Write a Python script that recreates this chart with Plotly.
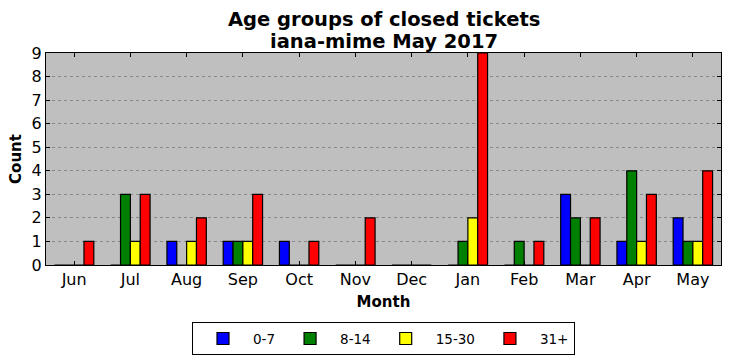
import plotly.graph_objects as go

months = ["Jun", "Jul", "Aug", "Sep", "Oct", "Nov", "Dec", "Jan", "Feb", "Mar", "Apr", "May"]
age_0_7 = [0, 0, 1, 1, 1, 0, 0, 0, 0, 3, 1, 2]
age_8_14 = [0, 3, 0, 1, 0, 0, 0, 1, 1, 2, 4, 1]
age_15_30 = [0, 1, 1, 1, 0, 0, 0, 2, 0, 0, 1, 1]
age_31p = [1, 3, 2, 3, 1, 2, 0, 9, 1, 2, 3, 4]
series = [("0-7", age_0_7, "#0000ff"), ("8-14", age_8_14, "#008000"),
          ("15-30", age_15_30, "#ffff00"), ("31+", age_31p, "#ff0000")]
title_lines = ["Age groups of closed tickets", "iana-mime May 2017"]

fig = go.Figure()
for name, vals, col in series:
    fig.add_trace(go.Bar(x=months, y=vals, name=name, marker=dict(color=col, line=dict(color="black", width=1.2))))

font = "DejaVu Sans"
anns = []
for txt, shift in zip(title_lines, [34, 12]):
    anns.append(dict(text="<b>%s</b>" % txt, xref="paper", yref="paper", x=0.5, y=1.0,
                     xanchor="center", yanchor="middle", yshift=shift, showarrow=False,
                     font=dict(size=19.5)))

fig.update_layout(
    width=731, height=361,
    barmode="group", bargap=0.3, bargroupgap=0,
    plot_bgcolor="#bfbfbf", paper_bgcolor="white",
    margin=dict(l=46, r=10, t=53, b=96, autoexpand=False),
    font=dict(family=font, size=16, color="black"),
    annotations=anns,
    legend=dict(orientation="h", x=0.5, xanchor="center", y=-0.27, yanchor="top",
                bordercolor="black", borderwidth=1, font=dict(size=13.5), itemwidth=50,
                traceorder="normal"),
    xaxis=dict(title=dict(text="<b>Month</b>", font=dict(size=15), standoff=8), automargin=False,
               showline=True, linecolor="black", linewidth=1, mirror="ticks",
               ticks="inside", ticklen=4, tickcolor="black", showgrid=False,
               range=[-0.5, 11.5]),
    yaxis=dict(title=dict(text="<b>Count</b>", font=dict(size=15), standoff=6), automargin=False,
               showline=True, linecolor="black", linewidth=1, mirror="ticks",
               ticks="inside", ticklen=4, tickcolor="black",
               range=[0, 9], dtick=1, showgrid=True, gridcolor="#888888", griddash="dot", gridwidth=1,
               zeroline=False),
)
fig.write_html("out.html", config={"displayModeBar": False},
               post_script="document.body.style.margin='0';")
